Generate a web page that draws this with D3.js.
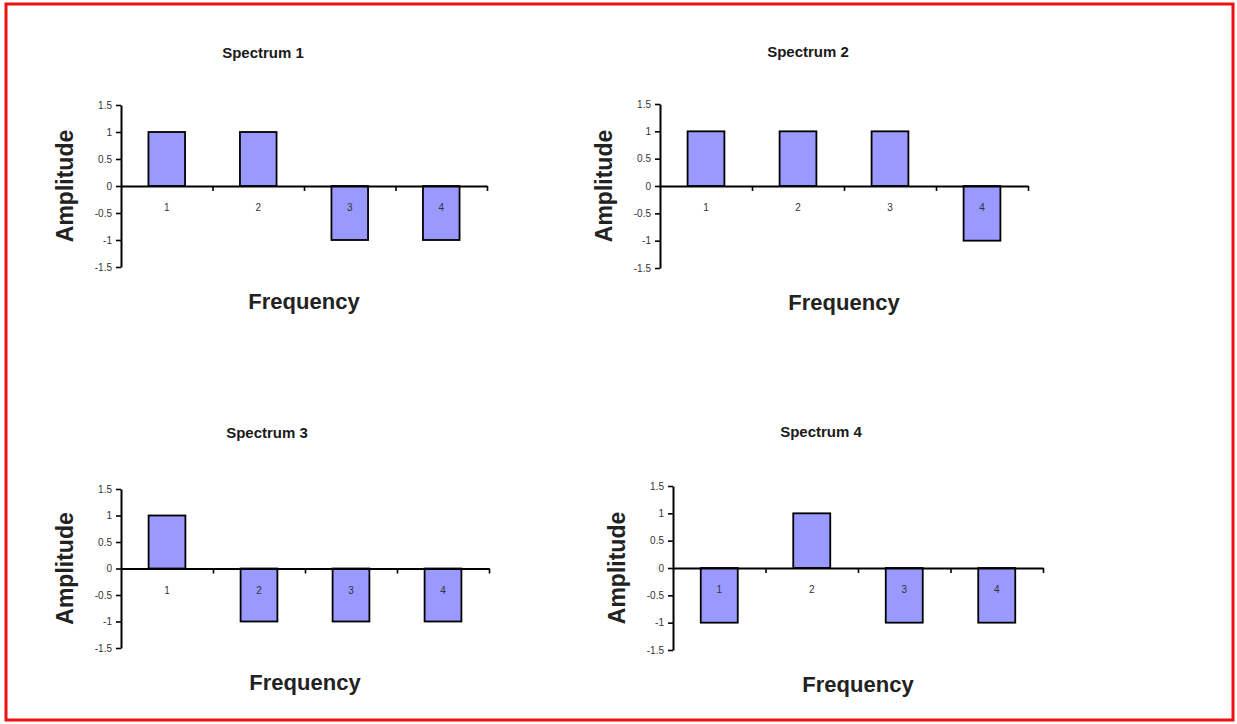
<!DOCTYPE html>
<html>
<head>
<meta charset="utf-8">
<script src="https://cdn.jsdelivr.net/npm/d3@7"></script>
<style>
  body { margin: 0; background: #fff; }
  svg { display: block; font-family: "Liberation Sans", Arial, sans-serif; }
</style>
</head>
<body>
<svg id="chart"></svg>
<script>
// Data
const categories = ["1", "2", "3", "4"];
const spectrumTitles = ["Spectrum 1", "Spectrum 2", "Spectrum 3", "Spectrum 4"];
const spectrum1 = [1, 1, -1, -1];
const spectrum2 = [1, 1, 1, -1];
const spectrum3 = [1, -1, -1, -1];
const spectrum4 = [-1, 1, -1, -1];
const yTicks = [-1.5, -1, -0.5, 0, 0.5, 1, 1.5];
const xLabel = "Frequency";
const yLabel = "Amplitude";

const allSeries = [spectrum1, spectrum2, spectrum3, spectrum4];

// Page size
const width = 1237;
const height = 724;

// Plot area of each panel (left, right, top, bottom) and title position
const panels = [
  { left: 121, right: 487, top: 105, bottom: 267, titleX: 263, titleY: 58 },
  { left: 660, right: 1028, top: 104, bottom: 268, titleX: 808, titleY: 57 },
  { left: 121, right: 489, top: 489, bottom: 648, titleX: 267, titleY: 438 },
  { left: 673, right: 1043, top: 486, bottom: 650, titleX: 821, titleY: 437 }
];

const svg = d3.select("#chart")
  .attr("width", width)
  .attr("height", height);

svg.append("rect")
  .attr("width", width)
  .attr("height", height)
  .attr("fill", "#fff");

// Red frame around the picture
svg.append("rect")
  .attr("x", 6)
  .attr("y", 4)
  .attr("width", 1227)
  .attr("height", 716)
  .attr("fill", "none")
  .attr("stroke", "#ee1111")
  .attr("stroke-width", 3);

panels.forEach((p, i) => {
  const values = allSeries[i];
  const g = svg.append("g");

  // Scales
  const x = d3.scaleBand()
    .domain(categories)
    .range([p.left, p.right])
    .paddingInner(0.6)
    .paddingOuter(0.3);

  const xEdges = d3.scaleLinear()
    .domain([0, categories.length])
    .range([p.left, p.right]);

  const y = d3.scaleLinear()
    .domain([-1.5, 1.5])
    .range([p.bottom, p.top]);

  // Bars
  g.selectAll("rect.bar")
    .data(values)
    .enter().append("rect")
    .attr("class", "bar")
    .attr("x", (d, j) => x(categories[j]))
    .attr("y", d => y(Math.max(0, d)))
    .attr("width", x.bandwidth())
    .attr("height", d => Math.abs(y(d) - y(0)))
    .attr("fill", "#9999ff")
    .attr("stroke", "#000")
    .attr("stroke-width", 1.8);

  // Y axis
  const yAxis = g.append("g")
    .attr("transform", `translate(${p.left},0)`)
    .call(d3.axisLeft(y)
      .tickValues(yTicks)
      .tickFormat(d => String(d))
      .tickSize(5)
      .tickSizeOuter(0)
      .tickPadding(4));
  yAxis.select(".domain").attr("stroke-width", 2);
  yAxis.selectAll("line").attr("stroke-width", 1.6);
  yAxis.selectAll("text")
    .attr("font-size", 10)
    .attr("fill", "#333");

  // X axis line with category boundary ticks
  const xAxis = g.append("g")
    .attr("transform", `translate(0,${y(0)})`)
    .call(d3.axisBottom(xEdges)
      .tickValues(d3.range(1, categories.length + 1))
      .tickFormat("")
      .tickSize(5)
      .tickSizeOuter(0));
  xAxis.select(".domain").attr("stroke-width", 2);
  xAxis.selectAll("line").attr("stroke-width", 1.6);

  // X category labels
  const xLabels = g.append("g")
    .attr("transform", `translate(0,${y(0)})`)
    .call(d3.axisBottom(x).tickSize(0).tickPadding(18));
  xLabels.select(".domain").remove();
  xLabels.selectAll("text")
    .attr("font-size", 10)
    .attr("fill", "#333");

  // Title
  g.append("text")
    .attr("x", p.titleX)
    .attr("y", p.titleY)
    .attr("text-anchor", "middle")
    .attr("font-size", 15)
    .attr("font-weight", "bold")
    .attr("fill", "#1a1a1a")
    .text(spectrumTitles[i]);

  // Axis titles
  g.append("text")
    .attr("x", (p.left + p.right) / 2)
    .attr("y", p.bottom + 34)
    .attr("dy", "0.35em")
    .attr("text-anchor", "middle")
    .attr("font-size", 22)
    .attr("font-weight", "bold")
    .attr("fill", "#222")
    .text(xLabel);

  g.append("text")
    .attr("transform", `translate(${p.left - 56},${(p.top + p.bottom) / 2}) rotate(-90)`)
    .attr("dy", "0.35em")
    .attr("text-anchor", "middle")
    .attr("font-size", 23)
    .attr("font-weight", "bold")
    .attr("fill", "#222")
    .text(yLabel);
});
</script>
</body>
</html>
